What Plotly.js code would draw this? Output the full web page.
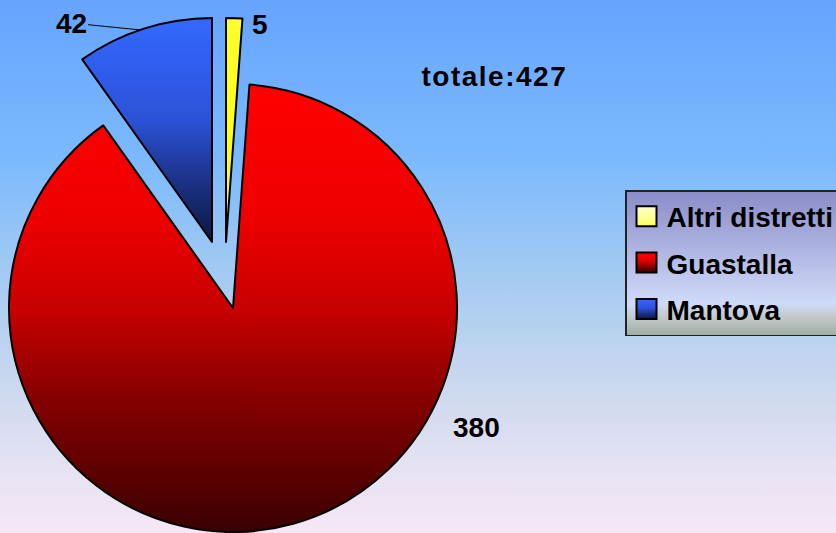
<!DOCTYPE html>
<html>
<head>
<meta charset="utf-8">
<script src="https://cdn.plot.ly/plotly-3.0.1.min.js"></script>
<style>
  html, body { margin:0; padding:0; width:836px; height:533px; overflow:hidden; }
  body { background: linear-gradient(to bottom, #66a4ff 0%, #7cbafd 30%, #a4cbf2 52%, #cbd8ee 72%, #e6e2f3 88%, #f6e7f6 100%); position:relative; }
  #chart { position:absolute; left:-20px; top:0; width:900px; height:533px; }
</style>
</head>
<body>
<div id="chart"></div>
<script>
// ---- data ----
const categories = ['Altri distretti', 'Guastalla', 'Mantova'];
const values = [5, 380, 42];
const sliceColors = ['rgb(255, 255, 0)', 'rgb(220, 0, 0)', 'rgb(40, 80, 220)'];
const totalLabel = 'totale:';

// ---- geometry helpers (page pixels -> paper fractions) ----
const OFFX = 20, DW = 900, DH = 533;
const px = x => (x + OFFX) / DW;
const py = y => 1 - y / DH;
function domainFor(cx, cy, r) {
  return { x: [px(cx - r), px(cx + r)], y: [py(cy + r), py(cy - r)] };
}
const R = 224;
// exploded centres for each slice (page pixels)
const centres = [[226, 242], [233, 308], [212, 242]];

const FONT = 'Liberation Sans, Arial, sans-serif';
const data = [];
// one drawn pie per slice so each slice can be exploded separately
categories.forEach((c, k) => {
  data.push({
    type: 'pie',
    labels: categories,
    values: values,
    sort: false,
    direction: 'clockwise',
    rotation: 0,
    textinfo: 'none',
    hoverinfo: 'label+value',
    showlegend: false,
    marker: {
      colors: categories.map((_, i) => i === k ? sliceColors[i] : 'rgba(0,0,0,0)'),
      line: { color: '#000', width: categories.map((_, i) => i === k ? 2 : 0) }
    },
    domain: domainFor(centres[k][0], centres[k][1], R)
  });
});
// legend carriers (tiny, hidden beneath the legend box)
categories.forEach((c, k) => {
  data.push({
    type: 'pie',
    labels: [c],
    values: [values[k]],
    textinfo: 'none',
    hoverinfo: 'skip',
    showlegend: true,
    legendgroup: 'g' + k,
    marker: { colors: [sliceColors[k]], line: { color: '#000', width: 2 } },
    domain: { x: [px(760), px(761)], y: [py(300), py(299)] }
  });
});

const total = values.reduce((a, b) => a + b, 0);
const annFont = { family: FONT, size: 28, color: '#000', weight: 700 };
const annotations = [
  { xref: 'paper', yref: 'paper', x: px(141), y: py(30), text: String(values[2]),
    showarrow: true, arrowhead: 0, arrowwidth: 1, arrowcolor: '#000', ax: -70, ay: -7, standoff: 0, font: annFont },
  { xref: 'paper', yref: 'paper', x: px(260), y: py(25), text: String(values[0]), showarrow: false,
    xanchor: 'center', yanchor: 'middle', font: annFont },
  { xref: 'paper', yref: 'paper', x: px(476), y: py(427), text: String(values[1]), showarrow: false,
    xanchor: 'center', yanchor: 'middle', font: annFont },
  { xref: 'paper', yref: 'paper', x: px(494), y: py(77), text: totalLabel + total, showarrow: false,
    xanchor: 'center', yanchor: 'middle', font: annFont }
];

const layout = {
  width: DW, height: DH,
  margin: { l: 0, r: 0, t: 0, b: 0 },
  paper_bgcolor: 'rgba(0,0,0,0)',
  plot_bgcolor: 'rgba(0,0,0,0)',
  showlegend: true,
  legend: {
    x: px(625), y: py(190), xanchor: 'left', yanchor: 'top',
    bgcolor: 'rgb(180,188,228)', bordercolor: '#222', borderwidth: 1.5,
    font: { family: FONT, size: 28, color: '#000', weight: 700 },
    traceorder: 'grouped', tracegroupgap: 7
  },
  annotations: annotations
};

Plotly.newPlot('chart', data, layout, { displayModeBar: false, staticPlot: true }).then(() => {
  const NS = 'http://www.w3.org/2000/svg';
  const svg = document.querySelector('#chart svg.main-svg');
  const defs = document.createElementNS(NS, 'defs');
  function grad(id, stops) {
    const g = document.createElementNS(NS, 'linearGradient');
    g.setAttribute('id', id);
    g.setAttribute('x1', '0'); g.setAttribute('y1', '0');
    g.setAttribute('x2', '0'); g.setAttribute('y2', '1');
    stops.forEach(([o, c]) => {
      const s = document.createElementNS(NS, 'stop');
      s.setAttribute('offset', o); s.setAttribute('stop-color', c);
      g.appendChild(s);
    });
    defs.appendChild(g);
  }
  grad('gY', [[0, '#ffff30'], [0.6, '#ffff10'], [1, '#f4f070']]);
  grad('gR', [[0, '#ff0000'], [0.3, '#ee0000'], [0.5, '#c80000'], [0.7, '#860000'], [1, '#3a0000']]);
  grad('gB', [[0, '#3468ff'], [0.45, '#2c52d8'], [0.75, '#1a3080'], [1, '#0b1840']]);
  grad('gLY', [[0, '#ffffd0'], [1, '#ffff60']]);
  grad('gLeg', [[0, '#8a8cc8'], [0.78, '#d0daf8'], [0.88, '#c0c8c8'], [1, '#a0b0a0']]);
  svg.insertBefore(defs, svg.firstChild);
  const map = {};
  map[sliceColors[0]] = 'gY'; map[sliceColors[1]] = 'gR'; map[sliceColors[2]] = 'gB';
  document.querySelectorAll('#chart .pielayer path.surface').forEach(p => {
    const f = p.style.fill;
    if (map[f]) p.style.fill = 'url(#' + map[f] + ')';
  });
  const lmap = {}; lmap[sliceColors[0]] = 'gLY'; lmap[sliceColors[1]] = 'gR'; lmap[sliceColors[2]] = 'gB';
  document.querySelectorAll('#chart path.legendpie').forEach(p => {
    const f = p.style.fill;
    if (lmap[f]) p.style.fill = 'url(#' + lmap[f] + ')';
    p.setAttribute('d', 'M10,10H-10V-10H10Z');
  });
  document.querySelectorAll('#chart .legend rect.bg').forEach(r => {
    r.style.fill = 'url(#gLeg)';
    const w = parseFloat(r.getAttribute('width'));
    if (!isNaN(w)) r.setAttribute('width', w + 40);
  });
  // the reference spaces the total label out slightly
  document.querySelectorAll('#chart .annotation-text').forEach(t => {
    if (t.textContent.indexOf(totalLabel) === 0) t.style.letterSpacing = '1.5px';
  });
});
</script>
</body>
</html>
